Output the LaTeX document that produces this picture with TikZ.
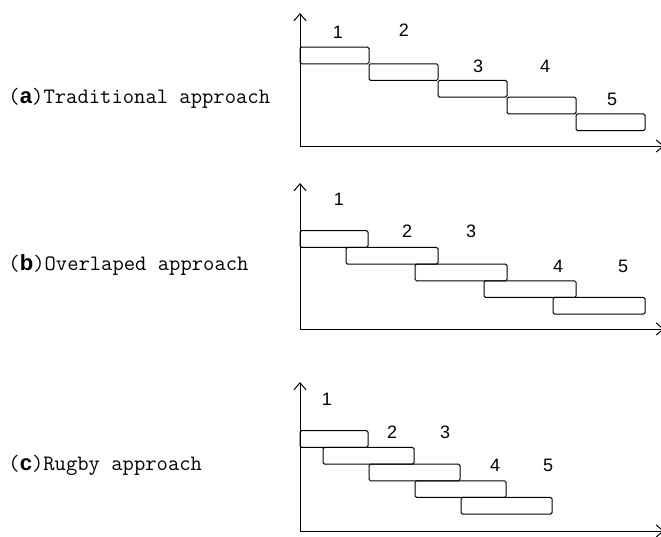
\documentclass[tikz,border=0pt]{standalone}
\usepackage{fontspec}
\setsansfont{Liberation Sans}
\newfontfamily\numfont{Liberation Sans}
\usetikzlibrary{arrows.meta}
\begin{document}
\begin{tikzpicture}[x=1pt,y=-1pt,line width=1pt,
    stage/.style={draw,rounded corners=1.5pt,inner sep=0pt,minimum height=16.7pt},
    num/.style={font=\numfont\fontsize{18}{18}\selectfont},
    caption/.style={anchor=west,inner sep=0pt,font=\ttfamily\fontsize{22}{22}\selectfont},
    axis/.style={{Straight Barb[length=7pt,width=12pt]}-{Straight Barb[length=7pt,width=12pt]}}]
  \useasboundingbox (0,0) rectangle (661,536);
  % captions
  \node[caption] (capa) at (8,98) {(\textbf{\sffamily a})Traditional approach};
  \node[caption] (capb) at (8,265) {(\textbf{\sffamily b})Overlaped approach};
  \node[caption] (capc) at (8,465) {(\textbf{\sffamily c})Rugby approach};
  % (a) traditional
  \coordinate (ta) at (300,13);
  \coordinate (oa) at (300,146);
  \coordinate (ra) at (664,146);
  \draw[axis] (ta) -- (oa) -- (ra);
  \node[stage,minimum width=69pt] (a1) at (334.5,55.4) {};
  \node[stage,minimum width=69pt] (a2) at (403.5,72.1) {};
  \node[stage,minimum width=69pt] (a3) at (472.5,88.8) {};
  \node[stage,minimum width=69pt] (a4) at (541.5,105.5) {};
  \node[stage,minimum width=69pt] (a5) at (610.5,122.2) {};
  \draw
    (338,32) node[num] (na1){1}
    (404,30) node[num] (na2){2}
    (478,66) node[num] (na3){3}
    (545,66) node[num] (na4){4}
    (612,99) node[num] (na5){5};
  % (b) overlapped
  \coordinate (tb) at (300,183);
  \coordinate (ob) at (300,329);
  \coordinate (rb) at (664,329);
  \draw[axis] (tb) -- (ob) -- (rb);
  \node[stage,minimum width=68pt] (b1) at (334,239) {};
  \node[stage,minimum width=92pt] (b2) at (392,255.7) {};
  \node[stage,minimum width=92pt] (b3) at (461,272.4) {};
  \node[stage,minimum width=92pt] (b4) at (530,289.1) {};
  \node[stage,minimum width=92pt] (b5) at (599,305.8) {};
  \draw
    (339,199) node[num] (nb1){1}
    (407,231) node[num] (nb2){2}
    (471,231) node[num] (nb3){3}
    (558,266) node[num] (nb4){4}
    (623,266) node[num] (nb5){5};
  % (c) rugby
  \coordinate (tc) at (300,382);
  \coordinate (oc) at (300,531);
  \coordinate (rc) at (664,531);
  \draw[axis] (tc) -- (oc) -- (rc);
  \node[stage,minimum width=68pt] (c1) at (334,439) {};
  \node[stage,minimum width=91pt] (c2) at (368.5,455.7) {};
  \node[stage,minimum width=91pt] (c3) at (414.5,472.4) {};
  \node[stage,minimum width=91pt] (c4) at (460.5,489.1) {};
  \node[stage,minimum width=91pt] (c5) at (506.5,505.8) {};
  \draw
    (327,399) node[num] (nc1){1}
    (392,432) node[num] (nc2){2}
    (445,432) node[num] (nc3){3}
    (495,465) node[num] (nc4){4}
    (548,465) node[num] (nc5){5};
\end{tikzpicture}
\end{document}
